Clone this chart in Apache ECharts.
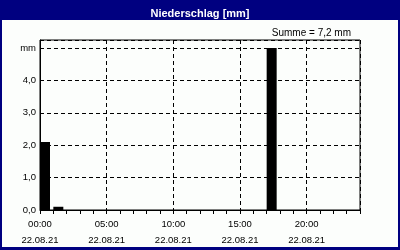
<!DOCTYPE html>
<html><head><meta charset="utf-8">
<script src="https://cdn.jsdelivr.net/npm/echarts@6/dist/echarts.min.js"></script>
<style>html,body{margin:0;padding:0;background:#000080}#c{width:400px;height:250px}</style>
</head><body><div id="c"></div>
<script>
const titleText = 'Niederschlag [mm]';
const sumText = 'Summe = 7,2 mm';
const dateLabel = '22.08.21';
const hours = [0,1,2,3,4,5,6,7,8,9,10,11,12,13,14,15,16,17,18,19,20,21,22,23];
const values = [2.1,0.1,0,0,0,0,0,0,0,0,0,0,0,0,0,0,0,5.0,0,0,0,0,0,0];
const yUnit = 'mm';

const chart = echarts.init(document.getElementById('c'), null, {renderer:'canvas'});
const font = 'Liberation Sans';
const data = hours.map((h,i)=>[h, values[i]]);
chart.setOption({
  backgroundColor:'#000080',
  animation:false,
  graphic:[{type:'rect', z:-10, shape:{x:2,y:20,width:396,height:227}, style:{fill:'#fcfefc'}}],
  title:[
    {text:titleText, left:'center', top:3, textStyle:{color:'#fff', fontFamily:font, fontSize:11, fontWeight:'bold'}},
    {text:sumText, right:44, top:23, textStyle:{color:'#000', fontFamily:font, fontSize:10, fontWeight:'normal'}}
  ],
  grid:{left:40, right:40, top:40, bottom:40, show:true, borderColor:'#000', borderWidth:1, backgroundColor:'transparent'},
  xAxis:[
    {type:'value', min:0, max:24, interval:5,
     axisLine:{lineStyle:{color:'#000', width:1}}, axisTick:{show:false},
     axisLabel:{color:'#000', fontFamily:font, fontSize:9.5, lineHeight:16, margin:6,
       formatter:v=> (v%5===0 && v<24) ? (String(v).padStart(2,'0')+':00\n'+dateLabel) : ''},
     splitLine:{show:true, lineStyle:{color:'#000', type:[4,3], width:1}}},
    {type:'value', min:0, max:24, interval:1, position:'bottom',
     axisLine:{show:false}, axisLabel:{show:false}, splitLine:{show:false},
     axisTick:{show:true, length:4, lineStyle:{color:'#000'}}}
  ],
  yAxis:{type:'value', min:0, max:5.25, interval:1,
    axisLine:{show:true, lineStyle:{color:'#000'}}, axisTick:{show:false},
    axisLabel:{color:'#000', fontFamily:font, fontSize:9.5, margin:4,
      formatter:v=> v===5 ? yUnit : (v>5 ? '' : v.toFixed(1).replace('.',','))},
    splitLine:{show:true, lineStyle:{color:'#000', type:[4,3], width:1}}},
  series:[{type:'custom', xAxisIndex:0, yAxisIndex:0, data:data,
    renderItem:(params, api)=>{
      const x = api.value(0), y = api.value(1);
      if (!y) return null;
      const p0 = api.coord([x, y]);
      const p1 = api.coord([x+0.75, 0]);
      return {type:'rect', shape:{x:p0[0], y:p0[1], width:p1[0]-p0[0], height:p1[1]-p0[1]}, style:{fill:'#000'}};
    }}]
});
</script></body></html>
